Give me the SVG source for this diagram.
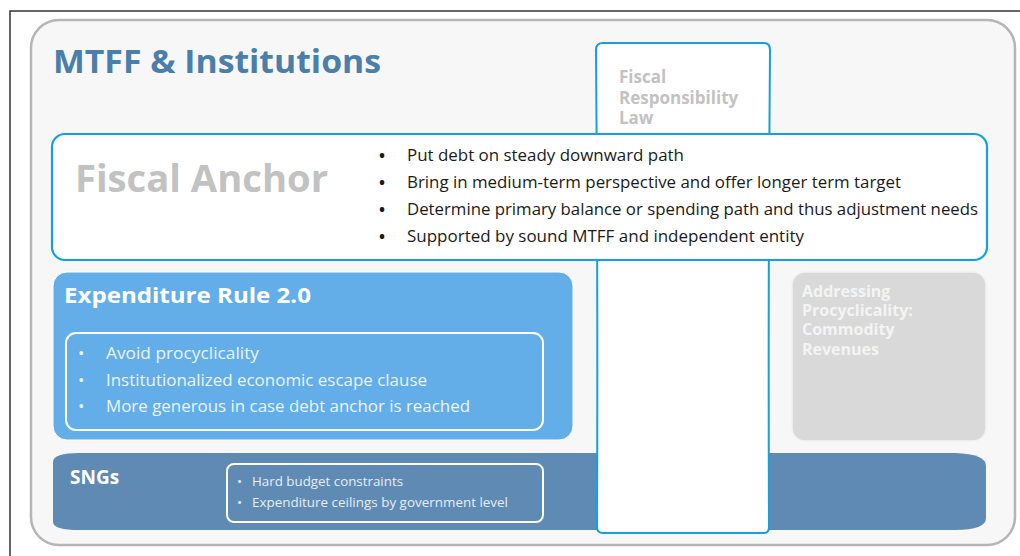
<svg xmlns="http://www.w3.org/2000/svg" width="1020" height="556" viewBox="0 0 1020 556">
<style>
text{font-family:"Open Sans","Noto Sans","Liberation Sans",sans-serif;}
.b{font-weight:700;}
.blt{font-size:16px;fill:#1a1a1a;}
.erb{font-size:17px;fill:#eaf4fc;}
.snb{font-size:13.5px;fill:#e6eef6;}
.gray{fill:#c2c2c2;}
</style>
<rect width="1020" height="556" fill="#ffffff"/>
<path d="M10,556 L10,11 L1020,11" fill="none" stroke="#333333" stroke-width="1.5"/>
<g id="frame">
<rect x="31" y="20" width="984" height="525" rx="28" ry="28" fill="#f7f7f7" stroke="#b5b5b5" stroke-width="2.5"/>
<text x="53" y="73" class="b" font-size="32" fill="#4a7eab" textLength="328" lengthAdjust="spacingAndGlyphs">MTFF &amp; Institutions</text>
</g>
<g id="sngs">
<path d="M53,462 Q53,453 80,453 L955,453 Q986,454 986,466 L986,518 Q986,530 955,530 L80,530 Q53,530 53,522 Z" fill="#5e8ab4"/>
<text x="70" y="484" class="b" font-size="19" fill="#ffffff">SNGs</text>
<rect x="227" y="464" width="316" height="58" rx="7" fill="none" stroke="#ffffff" stroke-width="2"/>
<text x="237" y="486" class="snb">•</text>
<text x="252" y="486" class="snb" textLength="151" lengthAdjust="spacingAndGlyphs">Hard budget constraints</text>
<text x="237" y="507" class="snb">•</text>
<text x="252" y="507" class="snb" textLength="256" lengthAdjust="spacingAndGlyphs">Expenditure ceilings by government level</text>
</g>
<g id="expenditure-rule">
<rect x="53" y="272" width="520" height="168" rx="14" fill="#63aee8" stroke="#ffffff" stroke-width="1"/>
<text x="64" y="303" class="b" font-size="22" fill="#ffffff" textLength="247" lengthAdjust="spacingAndGlyphs">Expenditure Rule 2.0</text>
<rect x="66" y="333" width="477" height="97" rx="10" fill="none" stroke="#ffffff" stroke-width="2"/>
<text x="78" y="359" class="erb">•</text>
<text x="106" y="359" class="erb" textLength="153" lengthAdjust="spacingAndGlyphs">Avoid procyclicality</text>
<text x="78" y="386" class="erb">•</text>
<text x="106" y="386" class="erb" textLength="321" lengthAdjust="spacingAndGlyphs">Institutionalized economic escape clause</text>
<text x="78" y="412" class="erb">•</text>
<text x="106" y="412" class="erb" textLength="364" lengthAdjust="spacingAndGlyphs">More generous in case debt anchor is reached</text>
</g>
<g id="addressing-procyclicality">
<rect x="792" y="272" width="194" height="169" rx="13" fill="#d9d9d9" stroke="#f2f2f2" stroke-width="1.5"/>
<text class="b" font-size="16" fill="#f4f4f4">
<tspan x="802" y="297">Addressing</tspan>
<tspan x="802" y="316">Procyclicality:</tspan>
<tspan x="802" y="335">Commodity</tspan>
<tspan x="802" y="355">Revenues</tspan>
</text>
</g>
<g id="fiscal-responsibility-law">
<path d="M603,43 L764,43 Q770,43 770,50 Q768,290 769,527 Q769,533 764,533 L603,533 Q597,533 597,527 Q598,290 596,50 Q596,43 603,43 Z" fill="#ffffff" stroke="#14a0e0" stroke-width="2"/>
<text class="b gray" font-size="17">
<tspan x="619" y="83">Fiscal</tspan>
<tspan x="619" y="104">Responsibility</tspan>
<tspan x="619" y="124">Law</tspan>
</text>
</g>
<g id="fiscal-anchor">
<rect x="52" y="134" width="935" height="126" rx="13" fill="#ffffff" stroke="#14a0e0" stroke-width="2.2"/>
<text x="75" y="192" class="b gray" font-size="37" textLength="253" lengthAdjust="spacingAndGlyphs">Fiscal Anchor</text>
<text x="379" y="161" class="blt b">•</text>
<text x="407" y="161" class="blt" textLength="277" lengthAdjust="spacingAndGlyphs">Put debt on steady downward path</text>
<text x="379" y="188" class="blt b">•</text>
<text x="407" y="188" class="blt" textLength="494" lengthAdjust="spacingAndGlyphs">Bring in medium-term perspective and offer longer term target</text>
<text x="379" y="215" class="blt b">•</text>
<text x="407" y="215" class="blt" textLength="571" lengthAdjust="spacingAndGlyphs">Determine primary balance or spending path and thus adjustment needs</text>
<text x="379" y="242" class="blt b">•</text>
<text x="407" y="242" class="blt" textLength="397" lengthAdjust="spacingAndGlyphs">Supported by sound MTFF and independent entity</text>
</g>
<g id="connectors"></g>
</svg>
